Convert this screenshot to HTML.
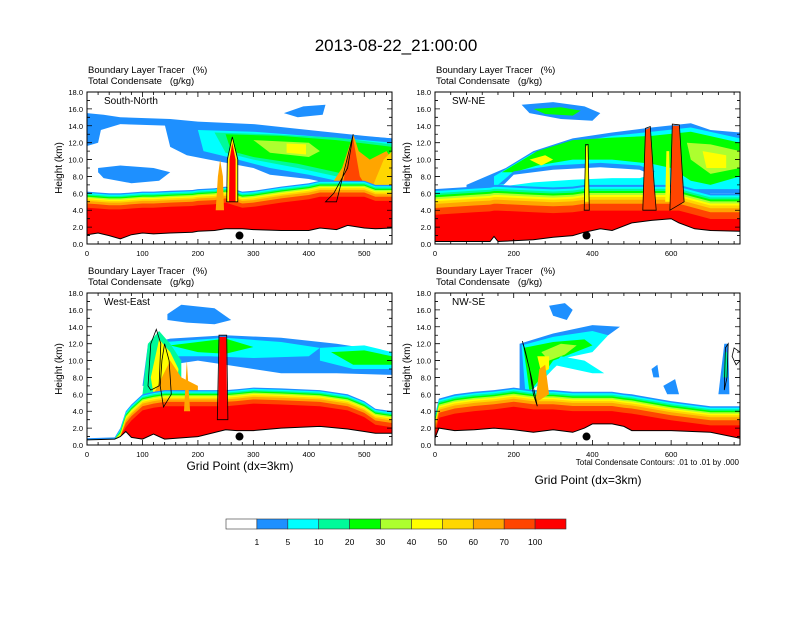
<!DOCTYPE html>
<html><head><meta charset="utf-8">
<style>
body{margin:0;background:#fff;}
svg text{font-family:"Liberation Sans",sans-serif;white-space:pre;}
</style></head>
<body>
<svg id="fig" width="792" height="612" viewBox="0 0 792 612" xmlns="http://www.w3.org/2000/svg">
<rect width="792" height="612" fill="#fff"/>
<text x="396" y="51" font-size="17" text-anchor="middle">2013-08-22_21:00:00</text>
<g id="panels"></g>
<g id="colorbar"></g>
<text x="240" y="470" font-size="12" text-anchor="middle">Grid Point (dx=3km)</text>
<text x="588" y="484" font-size="12" text-anchor="middle">Grid Point (dx=3km)</text>
<text x="739" y="465" font-size="8" text-anchor="end">Total Condensate Contours: .01 to .01 by .000</text>
</svg>
<script>
const COLORS=['#ffffff','#1e90ff','#00ffff','#00fa9a','#00ff00','#adff2f','#ffff00','#ffd700','#ffa500','#ff4500','#ff0000'];
const LEVEL_LABELS=['1','5','10','20','30','40','50','60','70','100'];
const BAND_OFFSETS=[0,0.15,0.3,0.45,0.6,0.75,0.9,1.1,1.4,1.9];
const Y_TICKS=[0,2,4,6,8,10,12,14,16,18];

// Panel 1: South-North
const p1Grid=[0,20,40,60,80,100,120,150,190,200,230,250,280,300,350,400,420,450,470,500,520,550];
const p1Ground=[1.1,1.3,1.0,0.6,1.1,1.3,1.2,1.3,1.4,1.5,1.6,1.8,1.8,1.7,1.6,1.6,1.9,1.7,2.2,1.9,1.8,1.9];
const p1BlTop=[6.2,6.1,6.0,6.0,6.1,6.2,6.2,6.3,6.4,6.5,6.6,6.8,6.2,6.3,6.8,7.2,7.5,7.5,7.5,7.5,7.0,7.0];
const p1Clouds=[
 [1,[[0,15.5],[30,15.3],[60,15.0],[150,14.8],[200,14.5],[300,14.2],[400,13.5],[500,12.8],[550,12.5],[550,11],[400,11.5],[300,12],[200,12.8],[150,14.0],[60,14.2],[25,13.5],[20,12],[0,11.6]]],
 [1,[[140,14.2],[250,14.0],[350,13.5],[450,13.0],[550,12.5],[550,6],[450,7],[400,7.7],[330,8.2],[300,9],[260,9.5],[220,10.0],[180,10.5],[150,11.5]]],
 [2,[[200,13.5],[300,13.3],[400,12.8],[500,12.3],[550,12],[550,6.5],[450,7.5],[400,8.2],[330,9],[260,10.2],[210,11]]],
 [3,[[230,13.2],[330,13.0],[450,12.6],[550,11.8],[550,6.8],[450,8],[380,9],[300,10],[250,10.8]]],
 [4,[[250,13],[350,12.8],[450,12.3],[550,11.5],[550,7],[450,8.5],[380,9.5],[300,10.3],[260,11]]],
 [5,[[300,12.3],[400,12.0],[420,11.0],[400,10.3],[330,10.8]]],
 [6,[[360,11.9],[395,11.8],[395,10.6],[360,10.8]]],
 [1,[[20,9],[60,9.3],[120,9.0],[150,8.5],[130,7.5],[80,7.2],[30,7.8],[20,8.5]]],
 [1,[[355,15.5],[390,16.3],[430,16.5],[425,15.3],[380,15.0]]],
 [8,[[430,6],[460,9],[480,13],[490,11],[510,10],[540,11],[550,10],[550,4],[430,4]]],
 [7,[[510,6],[535,10],[550,11],[550,6]]],
 [9,[[455,5],[470,10],[480,12.5],[492,8],[520,5],[550,5],[550,3],[455,3]]]
];
const p1Towers=[
 [8,[[232,4],[236,8],[240,10],[245,8],[247,4]]],
 [6,[[253,5],[254,10],[262,12.6],[271,10],[271,5]]],
 [10,[[256,5],[257,10],[262,12],[268,10],[268,5]]]
];
const p1Contours=[[[252,5],[253,10],[262,12.7],[272,10],[272,5]],[[480,13],[470,9],[445,6],[430,5],[450,5]]];
const p1Dot=[275,1.0];

// Panel 2: SW-NE
const p2Grid=[0,100,140,150,160,250,300,350,380,420,450,500,550,600,620,660,700,775];
const p2Ground=[0.3,0.3,0.3,0.9,0.3,0.5,0.8,1.0,1.4,1.8,1.6,2.5,2.8,3.0,2.5,1.8,1.6,1.5];
const p2BlTop=[6.5,6.8,6.9,7.0,7.0,6.8,6.7,6.8,7.0,7.0,7.0,7.0,7.0,7.0,7.0,6.5,6.0,6.0];
const p2Clouds=[
 [1,[[80,7],[180,9],[250,11],[350,12.5],[450,13.2],[550,13.8],[650,14.3],[700,13.5],[775,13.2],[775,6],[80,6]]],
 [2,[[150,8],[250,10.8],[350,12],[450,12.8],[550,13.3],[650,13.8],[775,12.5],[775,6.5],[150,6.5]]],
 [4,[[170,8.5],[260,11],[350,12.3],[450,12.6],[550,12.8],[650,13.3],[775,12],[775,8],[700,7],[650,7.5],[600,9],[550,9.5],[450,10.0],[350,10.0],[260,9.3],[200,8.5]]],
 [5,[[640,12],[700,11.8],[775,11],[775,9],[700,8.3],[650,10]]],
 [6,[[680,11],[740,10.5],[740,9],[690,9]]],
 [6,[[240,10],[280,10.5],[300,10],[270,9.3]]],
 [1,[[160,7],[250,7.6],[350,7.9],[450,8.1],[520,8.2],[560,8.6],[520,9.3],[420,9.6],[300,9.3],[200,8.6]]],
 [0,[[170,6.8],[250,7.3],[350,7.6],[450,7.8],[520,7.8],[550,8.2],[520,8.8],[420,9.1],[300,8.8],[200,8.2]]],
 [1,[[220,16.5],[300,16.8],[380,16.3],[420,15.5],[400,14.6],[320,14.8],[240,15.5]]],
 [4,[[250,16],[320,16.2],[370,15.8],[350,15.2],[280,15.4]]]
];
const p2Towers=[
 [6,[[380,5],[382,11.5],[388,11.7],[391,5]]],
 [9,[[528,4],[535,13.5],[546,13.8],[556,7],[562,4]]],
 [9,[[598,4],[604,14],[620,14],[632,5]]],
 [6,[[585,5],[588,11],[595,11],[598,5]]]
];
const p2Contours=[[[528,4],[535,13.7],[547,13.9],[557,7],[562,4]],[[597,4],[603,14.2],[621,14.1],[633,5]],[[379,4],[383,11.8],[389,11.8],[392,4]]];
const p2Dot=[385,1.0];

// Panel 3: West-East
const p3Grid=[0,50,60,70,80,100,120,140,200,250,270,300,350,420,470,500,520,550];
const p3Ground=[0.6,0.7,1.0,1.6,0.9,0.7,1.3,0.7,1.0,1.8,1.7,1.7,2.0,2.2,1.9,1.6,1.4,1.4];
const p3BlTop=[0.8,0.9,2.0,4.0,4.8,6.0,6.3,6.5,6.5,6.5,6.6,6.8,6.7,6.5,6.0,5.2,4.3,4.0];
const p3Clouds=[
 [1,[[100,7],[110,12],[150,12.6],[250,13],[350,12.7],[450,12.0],[550,11.0],[550,8.3],[450,8.5],[350,8.5],[300,9],[250,9.5],[200,10.0],[150,9.5],[110,7]]],
 [2,[[140,12.2],[250,12.7],[350,12.2],[420,11.5],[400,10.5],[300,10.3],[220,10.5],[150,10.5]]],
 [4,[[150,11.8],[250,12.6],[300,11.6],[250,10.8],[200,11]]],
 [2,[[420,11.5],[500,11.8],[550,11],[550,9],[480,9],[420,10]]],
 [4,[[440,11],[500,11.2],[550,10.5],[550,9.5],[480,9.5]]],
 [1,[[145,15.5],[170,16.6],[230,16.2],[260,14.8],[230,14.3],[180,14.5],[145,14.8]]],
 [3,[[100,6],[110,12],[130,13.5],[150,12],[170,10],[170,6]]],
 [6,[[115,8],[130,12.5],[150,11],[165,9],[160,6],[120,6]]],
 [8,[[120,6],[150,10],[170,8],[200,7],[200,5],[120,5]]]
];
const p3Towers=[
 [8,[[175,4],[180,10],[186,4]]],
 [10,[[236,3],[239,12.8],[251,12.8],[253,3]]]
];
const p3Contours=[[[235,3],[238,13],[252,13],[254,3]],[[110,7],[115,12],[125,13.7],[133,12],[130,7],[115,6.5]],[[135,10],[140,12],[148,10],[152,6],[138,4.5],[132,7]]];
const p3Dot=[275,1.0];

// Panel 4: NW-SE
const p4Grid=[0,10,50,100,150,200,250,300,350,380,400,450,480,500,600,700,775];
const p4Ground=[0.8,2.0,1.7,1.8,2.0,1.8,1.5,1.8,1.5,2.0,2.5,2.5,2.2,1.7,1.7,1.5,0.8];
const p4BlTop=[3.5,5.5,6.0,6.3,6.5,6.8,6.5,6.5,6.3,6.3,6.3,6.3,6.1,6.0,5.2,4.6,4.6];
const p4Clouds=[
 [1,[[215,12],[300,13.2],[400,14.2],[470,14],[440,13],[400,12.5],[300,10.5],[250,9],[240,6],[215,6]]],
 [2,[[220,11.8],[300,12.8],[400,13.5],[440,13],[400,11],[330,10.3],[300,9],[260,7],[230,6]]],
 [4,[[225,11.5],[300,12.2],[380,12.5],[400,11.8],[330,10.5],[300,10],[270,8],[240,6.3]]],
 [5,[[270,11],[320,12],[360,11.8],[330,10.7],[290,10]]],
 [6,[[260,10.5],[290,10.5],[290,9],[270,8.5]]],
 [2,[[300,9.5],[400,8.5],[430,8.5],[380,10],[320,10.5]]],
 [1,[[290,16.5],[330,16.8],[350,16],[335,14.8],[300,15.3]]],
 [1,[[550,9],[565,9.5],[570,8],[555,8]]],
 [1,[[580,7],[610,7.8],[620,6],[590,6]]],
 [1,[[720,6],[735,12],[745,12],[748,6]]],
 [3,[[732,8],[737,11],[742,11],[744,8]]]
];
const p4Towers=[
 [8,[[255,5],[265,9],[280,9.5],[290,6]]]
];
const p4Contours=[[[222,12.3],[240,9],[250,6],[260,4.6],[245,8],[230,11]],[[735,6.5],[738,11.5],[745,12],[742,8]],[[775,11],[760,11.5],[755,10.5],[765,9.5],[775,10]]];
const p4Dot=[385,1.0];

const PANELS=[
 {name:'south-north',label:'South-North',x0:87,y0:92,xmax:550,xt:[0,100,200,300,400,500],scale:1.0,grid:p1Grid,ground:p1Ground,bl:p1BlTop,clouds:p1Clouds,towers:p1Towers,cont:p1Contours,dot:p1Dot},
 {name:'sw-ne',label:'SW-NE',x0:435,y0:92,xmax:775,xt:[0,200,400,600],scale:1.6,grid:p2Grid,ground:p2Ground,bl:p2BlTop,clouds:p2Clouds,towers:p2Towers,cont:p2Contours,dot:p2Dot},
 {name:'west-east',label:'West-East',x0:87,y0:293,xmax:550,xt:[0,100,200,300,400,500],scale:1.0,grid:p3Grid,ground:p3Ground,bl:p3BlTop,clouds:p3Clouds,towers:p3Towers,cont:p3Contours,dot:p3Dot},
 {name:'nw-se',label:'NW-SE',x0:435,y0:293,xmax:775,xt:[0,200,400,600],scale:1.2,grid:p4Grid,ground:p4Ground,bl:p4BlTop,clouds:p4Clouds,towers:p4Towers,cont:p4Contours,dot:p4Dot}
];
const W=305,H=152;
const NS='http://www.w3.org/2000/svg';
function mk(tag,attrs,parent){const e=document.createElementNS(NS,tag);for(const k in attrs)e.setAttribute(k,attrs[k]);parent.appendChild(e);return e;}
const root=document.getElementById('panels');
PANELS.forEach((P,pi)=>{
 const X=g=>P.x0+g/P.xmax*W, Y=k=>P.y0+H-k/18*H;
 const g=mk('g',{},root);
 
 
 const cp=mk('clipPath',{id:'cp'+pi},g);
 mk('rect',{x:P.x0,y:P.y0,width:W,height:H},cp);
 const plot=mk('g',{'clip-path':'url(#cp'+pi+')'},g);
 const pts=a=>a.map(p=>X(p[0]).toFixed(1)+','+Y(p[1]).toFixed(1)).join(' ');
 P.clouds.forEach(c=>{const e=mk('polygon',{points:pts(c[1]),fill:COLORS[c[0]]},plot);
  
  });
 BAND_OFFSETS.forEach((off,i)=>{
  const top=P.grid.map((x,j)=>[x,Math.max(P.ground[j],P.bl[j]-off*P.scale)]);
  const bot=P.grid.map((x,j)=>[x,P.ground[j]]).reverse();
  const e=mk('polygon',{points:pts(top.concat(bot)),fill:COLORS[i+1]},plot);
  
  
 });
 P.towers.forEach(c=>{const e=mk('polygon',{points:pts(c[1]),fill:COLORS[c[0]]},plot);
  
  });
 P.cont.forEach(c=>{const e=mk('polygon',{points:pts(c),fill:'none',stroke:'#000','stroke-width':0.8},plot);
  
  });
 const gl=mk('polyline',{points:pts(P.grid.map((x,j)=>[x,P.ground[j]])),fill:'none',stroke:'#000','stroke-width':1},plot);
 
 
 const d=mk('circle',{cx:X(P.dot[0]),cy:Y(P.dot[1]),r:4,fill:'#000'},plot);
 
 
 const fr=mk('rect',{x:P.x0,y:P.y0,width:W,height:H,fill:'none',stroke:'#000','stroke-width':1},g);
 
 
 let tk='';
 Y_TICKS.forEach(v=>{const y=Y(v);tk+=`M${P.x0},${y}h5M${P.x0+W},${y}h-5`;if(v<18){const y2=Y(v+1);tk+=`M${P.x0},${y2}h3M${P.x0+W},${y2}h-3`;}
  const t=mk('text',{x:P.x0-4,y:y+3,'font-size':7.5,'text-anchor':'end'},g);t.textContent=v.toFixed(1);
  
  });
 const step=P.xt[1]-P.xt[0];
 for(let v=0;v<=P.xmax;v+=step/5){const x=X(v);const maj=Math.abs(v/step-Math.round(v/step))<1e-6;const L=maj?5:3;tk+=`M${x},${P.y0+H}v-${L}M${x},${P.y0}v${L}`;}
 mk('path',{d:tk,stroke:'#000','stroke-width':0.8,fill:'none'},g);
 P.xt.forEach(v=>{const t=mk('text',{x:X(v),y:P.y0+H+12,'font-size':7.5,'text-anchor':'middle'},g);t.textContent=v;
  
  });
 const yt=mk('text',{x:0,y:0,'font-size':10,'text-anchor':'middle',transform:`translate(${P.x0-25},${P.y0+H/2}) rotate(-90)`},g);
 yt.textContent='Height (km)';
 
 
 const lb=mk('text',{x:P.x0+17,y:P.y0+12,'font-size':10},g);lb.textContent=P.label;
 
 
 const s1=mk('text',{x:P.x0+1,y:P.y0-19,'font-size':9.5},g);s1.textContent='Boundary Layer Tracer   (%)';
 
 
 const s2=mk('text',{x:P.x0+1,y:P.y0-8,'font-size':9.5},g);s2.textContent='Total Condensate   (g/kg)';
 
 
});
const cb=document.getElementById('colorbar');
const cbx=226,cbw=340/11;
COLORS.forEach((c,i)=>{const r=mk('rect',{x:cbx+i*cbw,y:519,width:cbw,height:10,fill:c,stroke:'#333','stroke-width':0.6},cb);
 
 });
LEVEL_LABELS.forEach((l,i)=>{const t=mk('text',{x:cbx+(i+1)*cbw,y:545,'font-size':8.5,'text-anchor':'middle'},cb);t.textContent=l;
 
 });
</script>
</body></html>
